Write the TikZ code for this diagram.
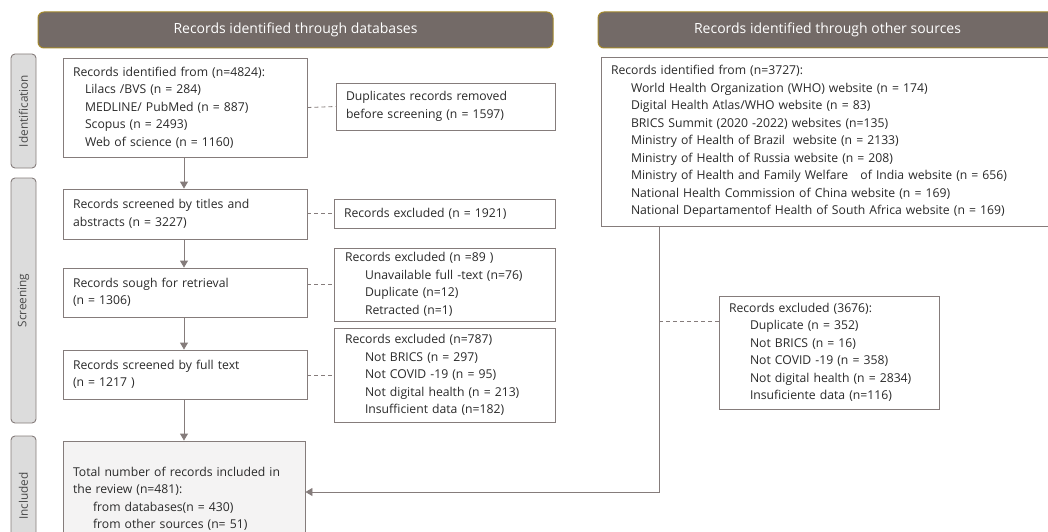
\documentclass[tikz,border=0pt]{standalone}
\usepackage{fontspec}
\setmainfont{Open Sans}
\usetikzlibrary{arrows.meta}
\definecolor{hdrfill}{HTML}{736A67}
\definecolor{hdrline}{HTML}{A4892C}
\definecolor{tabfill}{HTML}{DCDCDC}
\definecolor{linec}{HTML}{857C7B}
\definecolor{txtc}{HTML}{2A2A2A}
\definecolor{totfill}{HTML}{F4F3F3}
\tikzset{
  hdr/.style={draw=hdrline, line width=1pt, fill=hdrfill, rounded corners=6pt, text=white, font=\fontsize{14}{16}\selectfont, inner sep=0pt},
  tab/.style={draw=linec, line width=0.9pt, fill=tabfill, rounded corners=4pt, rotate=90, text=txtc!85, font=\fontsize{11.8}{14}\selectfont, inner sep=0pt},
  box/.style={draw=linec, line width=0.9pt, fill=white, align=left, inner xsep=10pt, inner ysep=0pt, text=txtc, font=\fontsize{12.2}{17.5}\selectfont},
  conn/.style={draw=linec, line width=0.9pt},
  arr/.style={conn, -{Triangle[width=8pt,length=7pt]}},
  dsh/.style={draw=linec, line width=0.8pt, dash pattern=on 4pt off 3pt},
}
\newcommand{\ind}[1]{\hspace*{#1}}
\begin{document}
\begin{tikzpicture}[x=1pt,y=-1pt]
\useasboundingbox (0,0) rectangle (1048,532);
\clip (0,0) rectangle (1048,532);
% headers
\node[hdr, minimum width=515pt, minimum height=36pt] (hdrA) at (295.5,30) {Records identified through databases};
\node[hdr, minimum width=459pt, minimum height=36pt] (hdrB) at (827.5,30) {Records identified through other sources};
% tabs
\node[tab, minimum width=114pt, minimum height=25pt] (tabId) at (23.5,111) {Identification};
\node[tab, minimum width=245pt, minimum height=25pt] (tabScr) at (23.5,300.5) {Screening};
\node[tab, minimum width=120pt, minimum height=25pt] (tabInc) at (23.5,496) {Included};
% left column
\node[box, text width=224pt, minimum height=99pt] (b1) at (185,107.5) {Records identified from (n=4824):\\
\ind{12pt}Lilacs /BVS (n = 284)\\
\ind{12pt}MEDLINE/ PubMed (n = 887)\\
\ind{12pt}Scopus (n = 2493)\\
\ind{12pt}Web of science (n = 1160)};
\node[box, text width=199pt, minimum height=47pt] (dup) at (445.5,106.5) {Duplicates records removed\\before screening (n = 1597)};
\node[box, text width=224pt, minimum height=50pt] (b2) at (185,214) {Records screened by titles and\\abstracts (n = 3227)};
\node[box, text width=201pt, minimum height=29pt] (ex1) at (444.5,213.5) {Records excluded (n = 1921)};
\node[box, text width=224pt, minimum height=49pt] (b3) at (185,292.5) {Records sough for retrieval\\(n = 1306)};
\node[box, text width=199pt, minimum height=73pt, inner xsep=11pt] (ex2) at (444.5,284.5) {Records excluded (n =89 )\\
\ind{20pt}Unavailable full -text (n=76)\\
\ind{20pt}Duplicate (n=12)\\
\ind{20pt}Retracted (n=1)};
\node[box, text width=224pt, minimum height=49pt] (b4) at (185,374.5) {Records screened by full text\\(n = 1217 )};
\node[box, text width=199pt, minimum height=94pt, inner xsep=11pt] (ex3) at (444.5,375) {Records excluded (n=787)\\
\ind{20pt}Not BRICS (n = 297)\\
\ind{20pt}Not COVID -19 (n = 95)\\
\ind{20pt}Not digital health (n = 213)\\
\ind{20pt}Insufficient data (n=182)};
\node[box, fill=totfill, text width=222pt, minimum height=116pt] (tot) at (184,499) {Total number of records included in\\the review (n=481):\\
\ind{20pt}from databases(n = 430)\\
\ind{20pt}from other sources (n= 51)};
% right column
\node[box, text width=440pt, minimum height=169pt, inner xsep=10pt] (oth) at (831,141.5) {Records identified from (n=3727):\\
\ind{20pt}World Health Organization (WHO) website (n = 174)\\
\ind{20pt}Digital Health Atlas/WHO website (n = 83)\\
\ind{20pt}BRICS Summit (2020 -2022) websites (n=135)\\
\ind{20pt}Ministry of Health of Brazil\ \ website (n = 2133)\\
\ind{20pt}Ministry of Health of Russia website (n = 208)\\
\ind{20pt}Ministry of Health and Family Welfare\ \ \ of India website (n = 656)\\
\ind{20pt}National Health Commission of China website (n = 169)\\
\ind{20pt}National Departamentof Health of South Africa website (n = 169)};
\node[box, text width=200pt, minimum height=113pt] (ex4) at (829,352.5) {Records excluded (3676):\\
\ind{21pt}Duplicate (n = 352)\\
\ind{21pt}Not BRICS (n = 16)\\
\ind{21pt}Not COVID -19 (n = 358)\\
\ind{21pt}Not digital health (n = 2834)\\
\ind{21pt}Insuficiente data (n=116)};
% connectors
\draw[arr] (b1.south -| 184,0) -- (b2.north -| 184,0);
\draw[arr] (b2.south -| 184,0) -- (b3.north -| 184,0);
\draw[arr] (b3.south -| 184,0) -- (b4.north -| 184,0);
\draw[arr] (b4.south -| 184,0) -- (tot.north -| 184,0);
\draw[dsh] (b1.east) -- (dup.west);
\draw[dsh] (b2.east |- ex1.west) -- (ex1.west);
\draw[dsh] (b3.east |- ex2.west) -- (ex2.west);
\draw[dsh] (b4.east |- ex3.west) -- (ex3.west);
\coordinate (turn) at (659,492);
\coordinate (ex4d) at (700,321);
\draw[arr] (oth.south -| turn) -- (turn) -- (tot.east |- turn);
\draw[dsh] (turn |- ex4d) -- (ex4.west |- ex4d);
\end{tikzpicture}
\end{document}
